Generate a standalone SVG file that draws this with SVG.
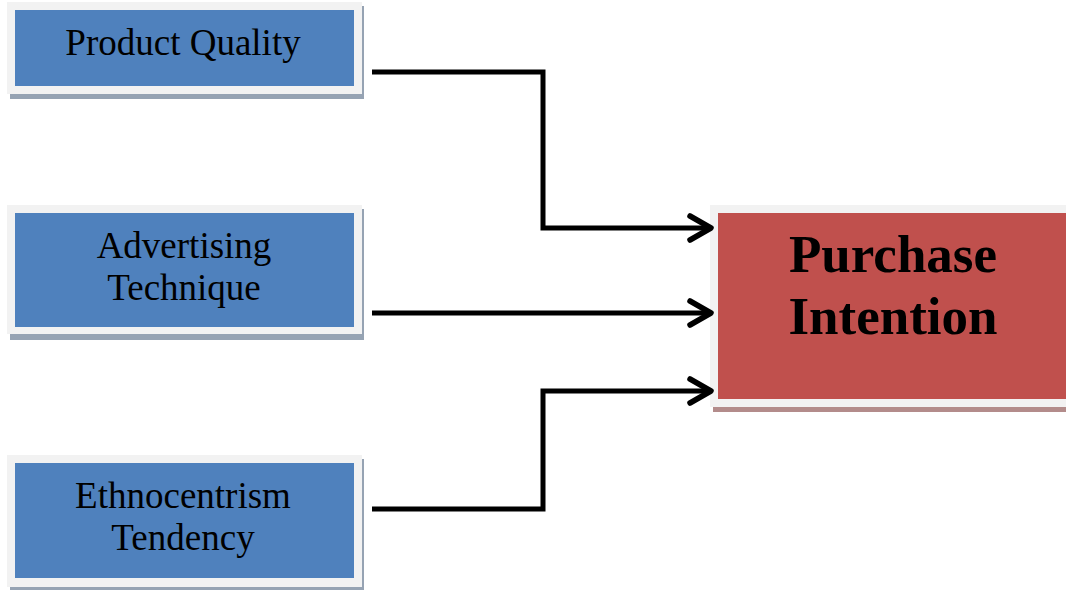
<svg xmlns="http://www.w3.org/2000/svg" width="1066" height="590" viewBox="0 0 1066 590">
<style>
.frame{fill:#f2f2f2}
.bshadow{fill:#96a3b3}
.rshadow{fill:#b38c8b}
.blue{fill:#4f81bd}
.red{fill:#c0504d}
.t{font-family:"Liberation Serif","Times New Roman",serif;font-size:37px;fill:#000;text-anchor:middle}
.tb{font-family:"Liberation Serif","Times New Roman",serif;font-size:53px;font-weight:bold;fill:#000;text-anchor:middle}
.c{fill:none;stroke:#000;stroke-width:5}
.ah{fill:none;stroke:#000;stroke-width:5.5;stroke-linecap:round;stroke-linejoin:round}
</style>
<rect width="1066" height="590" fill="#fff"/>
<g id="product-quality">
<rect class="bshadow" x="10" y="6" width="354" height="93"/>
<rect class="frame" x="7" y="2" width="355" height="92"/>
<rect class="blue" x="15" y="10" width="339" height="76"/>
<text class="t" x="183" y="55">Product Quality</text>
</g>
<g id="advertising-technique">
<rect class="bshadow" x="10" y="209" width="354" height="131"/>
<rect class="frame" x="7" y="205" width="355" height="129"/>
<rect class="blue" x="15" y="213" width="339" height="114"/>
<text class="t" x="184" y="258">Advertising</text>
<text class="t" x="184" y="300">Technique</text>
</g>
<g id="ethnocentrism-tendency">
<rect class="bshadow" x="10" y="459" width="354" height="131"/>
<rect class="frame" x="7" y="455" width="355" height="132"/>
<rect class="blue" x="15" y="463" width="339" height="115"/>
<text class="t" x="183" y="508">Ethnocentrism</text>
<text class="t" x="183" y="550">Tendency</text>
</g>
<g id="purchase-intention">
<rect class="rshadow" x="713" y="209" width="360" height="203"/>
<rect class="frame" x="710" y="205" width="360" height="202"/>
<rect class="red" x="718" y="213" width="352" height="186"/>
<text class="tb" x="893" y="272">Purchase</text>
<text class="tb" x="893" y="334">Intention</text>
</g>
<g id="connectors">
<polyline class="c" points="372,72 543,72 543,228 708,228"/>
<polyline class="ah" points="690,216 711,228 690,240"/>
<polyline class="c" points="372,313 708,313"/>
<polyline class="ah" points="690,301 711,313 690,325"/>
<polyline class="c" points="372,509 543,509 543,391 708,391"/>
<polyline class="ah" points="690,379 711,391 690,403"/>
</g>
</svg>
